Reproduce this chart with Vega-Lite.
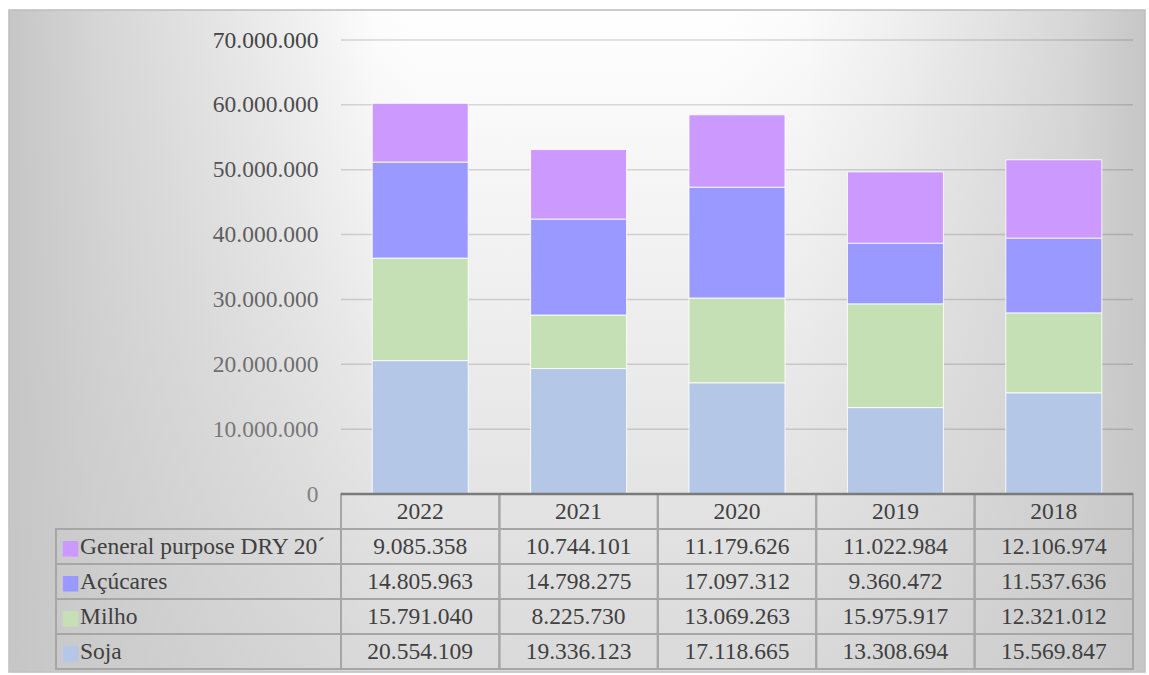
{
  "$schema": "https://vega.github.io/schema/vega-lite/v6.json",
  "width": 1136,
  "height": 662,
  "autosize": {"type": "none"},
  "padding": {"left": 9, "top": 10, "right": 4, "bottom": 3},
  "background": "#ffffff",
  "view": {
    "stroke": "#bdbdbd",
    "strokeWidth": 1.5,
    "fill": {
      "gradient": "linear", "x1": 0, "y1": 0, "x2": 1, "y2": 0,
      "stops": [
        {"offset": 0, "color": "#c6c6c6"},
        {"offset": 0.08, "color": "#d6d6d6"},
        {"offset": 0.17, "color": "#e3e3e3"},
        {"offset": 0.26, "color": "#f1f1f1"},
        {"offset": 0.32, "color": "#fcfcfc"},
        {"offset": 0.36, "color": "#ffffff"},
        {"offset": 0.62, "color": "#ffffff"},
        {"offset": 0.7, "color": "#fbfbfb"},
        {"offset": 0.78, "color": "#f0f0f0"},
        {"offset": 0.87, "color": "#e2e2e2"},
        {"offset": 0.94, "color": "#d6d6d6"},
        {"offset": 1, "color": "#c6c6c6"}
      ]
    }
  },
  "config": {
    "locale": {"number": {"decimal": ",", "thousands": ".", "grouping": [3], "currency": ["", ""]}},
    "font": "Liberation Serif"
  },
  "datasets": {
    "vals": [
      {"year": "2022", "series": "General purpose DRY 20´", "idx": 4, "value": 9085358},
      {"year": "2022", "series": "Açúcares", "idx": 3, "value": 14805963},
      {"year": "2022", "series": "Milho", "idx": 2, "value": 15791040},
      {"year": "2022", "series": "Soja", "idx": 1, "value": 20554109},
      {"year": "2021", "series": "General purpose DRY 20´", "idx": 4, "value": 10744101},
      {"year": "2021", "series": "Açúcares", "idx": 3, "value": 14798275},
      {"year": "2021", "series": "Milho", "idx": 2, "value": 8225730},
      {"year": "2021", "series": "Soja", "idx": 1, "value": 19336123},
      {"year": "2020", "series": "General purpose DRY 20´", "idx": 4, "value": 11179626},
      {"year": "2020", "series": "Açúcares", "idx": 3, "value": 17097312},
      {"year": "2020", "series": "Milho", "idx": 2, "value": 13069263},
      {"year": "2020", "series": "Soja", "idx": 1, "value": 17118665},
      {"year": "2019", "series": "General purpose DRY 20´", "idx": 4, "value": 11022984},
      {"year": "2019", "series": "Açúcares", "idx": 3, "value": 9360472},
      {"year": "2019", "series": "Milho", "idx": 2, "value": 15975917},
      {"year": "2019", "series": "Soja", "idx": 1, "value": 13308694},
      {"year": "2018", "series": "General purpose DRY 20´", "idx": 4, "value": 12106974},
      {"year": "2018", "series": "Açúcares", "idx": 3, "value": 11537636},
      {"year": "2018", "series": "Milho", "idx": 2, "value": 12321012},
      {"year": "2018", "series": "Soja", "idx": 1, "value": 15569847}
    ],
    "grid": [
      {"g": 10000000}, {"g": 20000000}, {"g": 30000000}, {"g": 40000000},
      {"g": 50000000}, {"g": 60000000}, {"g": 70000000}
    ],
    "one": [{"k": 1}]
  },
  "resolve": {"scale": {"x": "independent", "y": "independent"}},
  "layer": [
    {
      "data": {"name": "one"},
      "mark": {
        "type": "rect",
        "fill": {
          "gradient": "linear", "x1": 0, "y1": 0, "x2": 0, "y2": 1,
          "stops": [
            {"offset": 0, "color": "rgba(198,198,198,0)"},
            {"offset": 1, "color": "rgba(198,198,198,0.65)"}
          ]
        }
      },
      "encoding": {
        "x": {"datum": 0, "type": "quantitative", "scale": {"domain": [0, 1], "nice": false}, "axis": null},
        "x2": {"datum": 1},
        "y": {"datum": 0, "type": "quantitative", "scale": {"domain": [0, 1], "nice": false}, "axis": null},
        "y2": {"datum": 1}
      }
    },
    {
      "data": {"name": "grid"},
      "mark": {"type": "rule", "color": "#000000", "strokeOpacity": 0.14, "strokeWidth": 1.5},
      "encoding": {
        "y": {"field": "g", "type": "quantitative", "scale": {"domain": [0, 70000000], "range": [484, 30], "nice": false, "zero": true}, "axis": null},
        "x": {"datum": 0, "type": "quantitative", "scale": {"domain": [0, 1], "range": [332, 1124], "nice": false}, "axis": null},
        "x2": {"datum": 1}
      }
    },
    {
      "data": {"name": "vals"},
      "mark": {"type": "bar", "stroke": "#ffffff", "strokeWidth": 1, "strokeOpacity": 0.85},
      "encoding": {
        "x": {"field": "year", "type": "nominal", "scale": {"type": "band", "domain": ["2022", "2021", "2020", "2019", "2018"], "range": [332, 1124], "paddingInner": 0.394, "paddingOuter": 0.197}, "axis": null},
        "y": {
          "field": "value", "type": "quantitative", "stack": "zero",
          "scale": {"domain": [0, 70000000], "range": [484, 30], "nice": false, "zero": true},
          "axis": {
            "orient": "left", "offset": -309, "values": [0, 10000000, 20000000, 30000000, 40000000, 50000000, 60000000, 70000000],
            "format": ",d", "labelFont": "Liberation Serif", "labelFontSize": 23.5, "labelColor": "#404040",
            "ticks": false, "domain": false, "grid": false, "labelPadding": 0, "title": null
          }
        },
        "color": {
          "field": "series", "type": "nominal",
          "scale": {"domain": ["General purpose DRY 20´", "Açúcares", "Milho", "Soja"], "range": ["#cc99ff", "#9999ff", "#c5e0b4", "#b4c7e7"]},
          "legend": null
        },
        "order": {"field": "idx", "type": "quantitative"}
      }
    },
    {
      "data": {"name": "vals"},
      "mark": {"type": "rect", "fill": "#ffffff", "fillOpacity": 0, "stroke": "#a6a6a6", "strokeWidth": 2},
      "encoding": {
        "x": {"field": "year", "type": "nominal", "scale": {"type": "band", "domain": ["2022", "2021", "2020", "2019", "2018"], "range": [332, 1124], "paddingInner": 0, "paddingOuter": 0}, "axis": null},
        "y": {"field": "series", "type": "nominal", "scale": {"type": "band", "domain": ["header", "General purpose DRY 20´", "Açúcares", "Milho", "Soja"], "range": [484, 659], "paddingInner": 0, "paddingOuter": 0}, "axis": null}
      }
    },
    {
      "data": {"name": "vals"},
      "transform": [{"filter": "datum.series == 'Soja'"}],
      "mark": {"type": "rect", "fill": "#ffffff", "fillOpacity": 0, "stroke": "#a6a6a6", "strokeWidth": 2},
      "encoding": {
        "x": {"field": "year", "type": "nominal", "scale": {"type": "band", "domain": ["2022", "2021", "2020", "2019", "2018"], "range": [332, 1124], "paddingInner": 0, "paddingOuter": 0}, "axis": null},
        "y": {"datum": "header", "type": "nominal", "scale": {"type": "band", "domain": ["header", "General purpose DRY 20´", "Açúcares", "Milho", "Soja"], "range": [484, 659], "paddingInner": 0, "paddingOuter": 0}, "axis": null}
      }
    },
    {
      "data": {"name": "vals"},
      "transform": [{"filter": "datum.year == '2022'"}],
      "mark": {"type": "rect", "fill": "#ffffff", "fillOpacity": 0, "stroke": "#a6a6a6", "strokeWidth": 2},
      "encoding": {
        "x": {"datum": 0, "type": "quantitative", "scale": {"domain": [0, 1], "range": [47, 332], "nice": false}, "axis": null},
        "x2": {"datum": 1},
        "y": {"field": "series", "type": "nominal", "scale": {"type": "band", "domain": ["header", "General purpose DRY 20´", "Açúcares", "Milho", "Soja"], "range": [484, 659], "paddingInner": 0, "paddingOuter": 0}, "axis": null}
      }
    },
    {
      "data": {"name": "vals"},
      "mark": {"type": "text", "font": "Liberation Serif", "fontSize": 23.5, "color": "#404040"},
      "encoding": {
        "x": {"field": "year", "type": "nominal", "scale": {"type": "band", "domain": ["2022", "2021", "2020", "2019", "2018"], "range": [332, 1124], "paddingInner": 0, "paddingOuter": 0}, "axis": null},
        "y": {"field": "series", "type": "nominal", "scale": {"type": "band", "domain": ["header", "General purpose DRY 20´", "Açúcares", "Milho", "Soja"], "range": [484, 659], "paddingInner": 0, "paddingOuter": 0}, "axis": null},
        "text": {"field": "value", "type": "quantitative", "format": ",d"}
      }
    },
    {
      "data": {"name": "vals"},
      "transform": [{"filter": "datum.series == 'Soja'"}],
      "mark": {"type": "text", "font": "Liberation Serif", "fontSize": 23.5, "color": "#404040"},
      "encoding": {
        "x": {"field": "year", "type": "nominal", "scale": {"type": "band", "domain": ["2022", "2021", "2020", "2019", "2018"], "range": [332, 1124], "paddingInner": 0, "paddingOuter": 0}, "axis": null},
        "y": {"datum": "header", "type": "nominal", "scale": {"type": "band", "domain": ["header", "General purpose DRY 20´", "Açúcares", "Milho", "Soja"], "range": [484, 659], "paddingInner": 0, "paddingOuter": 0}, "axis": null},
        "text": {"field": "year", "type": "nominal"}
      }
    },
    {
      "data": {"name": "vals"},
      "transform": [{"filter": "datum.year == '2022'"}],
      "mark": {"type": "text", "font": "Liberation Serif", "fontSize": 23.5, "color": "#404040", "align": "left", "dx": 24},
      "encoding": {
        "x": {"datum": 0, "type": "quantitative", "scale": {"domain": [0, 1], "range": [47, 332], "nice": false}, "axis": null},
        "y": {"field": "series", "type": "nominal", "scale": {"type": "band", "domain": ["header", "General purpose DRY 20´", "Açúcares", "Milho", "Soja"], "range": [484, 659], "paddingInner": 0, "paddingOuter": 0}, "axis": null},
        "text": {"field": "series", "type": "nominal"}
      }
    },
    {
      "data": {"name": "vals"},
      "transform": [{"filter": "datum.year == '2022'"}],
      "mark": {"type": "text", "font": "DejaVu Sans", "fontSize": 20, "align": "left", "dx": 5, "dy": 1},
      "encoding": {
        "x": {"datum": 0, "type": "quantitative", "scale": {"domain": [0, 1], "range": [47, 332], "nice": false}, "axis": null},
        "y": {"field": "series", "type": "nominal", "scale": {"type": "band", "domain": ["header", "General purpose DRY 20´", "Açúcares", "Milho", "Soja"], "range": [484, 659], "paddingInner": 0, "paddingOuter": 0}, "axis": null},
        "text": {"value": "■"},
        "color": {"field": "series", "type": "nominal", "legend": null}
      }
    },
    {
      "data": {"name": "one"},
      "mark": {"type": "rule", "color": "#7a7a7a", "strokeWidth": 2.5},
      "encoding": {
        "y": {"datum": 0, "type": "quantitative", "scale": {"domain": [0, 70000000], "range": [484, 30], "nice": false, "zero": true}, "axis": null},
        "x": {"datum": 0, "type": "quantitative", "scale": {"domain": [0, 1], "range": [332, 1124], "nice": false}, "axis": null},
        "x2": {"datum": 1}
      }
    }
  ]
}
